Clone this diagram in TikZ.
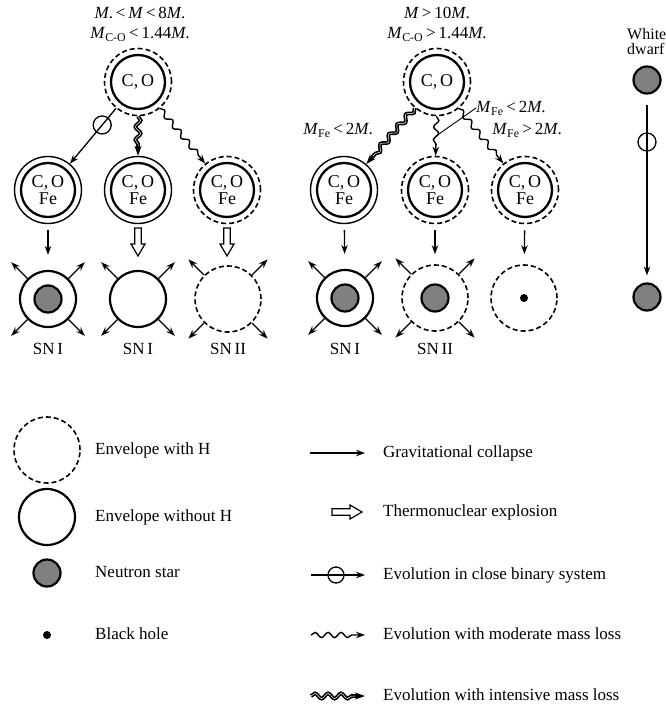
\documentclass[tikz,border=0pt]{standalone}
\usepackage{fontspec}
\setmainfont{Liberation Serif}
\usetikzlibrary{arrows.meta,decorations.pathmorphing,calc}
\begin{document}
\begin{tikzpicture}[x=1pt,y=-1pt,
  >={Stealth[length=9pt,width=6.5pt]},
  lbl/.style={inner sep=0pt, text height=12pt, text depth=3pt, font=\fontsize{17}{19}\selectfont},
  core/.style={circle, draw, line width=2.3pt, minimum size=54pt, inner sep=0pt, align=center, font=\fontsize{18}{17}\selectfont},
  shellH/.style={circle, draw, dash pattern=on 5pt off 3pt, line width=1.6pt, minimum size=67pt, inner sep=0pt},
  shell/.style={circle, draw, line width=1.4pt, minimum size=67pt, inner sep=0pt},
  envH/.style={circle, draw, dash pattern=on 5pt off 3pt, line width=1.6pt, minimum size=66pt, inner sep=0pt},
  env/.style={circle, draw, line width=2.2pt, minimum size=56pt, inner sep=0pt},
  nstar/.style={circle, draw, line width=2.2pt, fill=black!50, minimum size=27pt, inner sep=0pt},
  bhole/.style={circle, fill=black, minimum size=8pt, inner sep=0pt},
  bin/.style={circle, draw, line width=1.3pt, minimum size=18pt, inner sep=0pt},
  gc/.style={line width=1.3pt, ->},
  wave/.style={decorate, decoration={snake, amplitude=2.6pt, segment length=13pt, post length=8pt}},
  mod/.style={line width=1.4pt, ->, wave},
  intb/.style={line width=3.8pt, -{Stealth[length=10pt,width=7pt]}, wave},
  intw/.style={line width=0.5pt, white, wave, shorten >=10pt},
  pics/hollow/.style={code={\draw[line width=1.2pt, fill=white, line join=miter] (0,-3.2) -- (#1-12,-3.2) -- (#1-12,-7) -- (#1,0) -- (#1-12,7) -- (#1-12,3.2) -- (0,3.2) -- cycle;}}
]
\useasboundingbox (0,0) rectangle (665,709);

% ---------- left group ----------
\node[lbl] (c1) at (140,14) {\textit{M}.\,<\,\textit{M}\,<\,8\textit{M}.};
\node[lbl] (c2) at (140,34) {\textit{M}\textsubscript{C-O}\,<\,1.44\textit{M}.};
\node[shellH] (t1) at (138,82) {}; \node[core] (t1c) at (t1) {C,\,O};

\node[shell] (m1) at (48,190) {}; \node[core] (m1c) at (m1) {C,\,O\\Fe};
\node[shell] (m2) at (138,190) {}; \node[core] (m2c) at (m2) {C,\,O\\Fe};
\node[shellH] (m3) at (227,190) {}; \node[core] (m3c) at (m3) {C,\,O\\Fe};

\draw[gc] (t1) -- (m1) node[bin, pos=0.3] (bn1) {};
\draw[intb] (t1) -- (m2); \draw[intw] (t1) -- (m2);
\draw[mod] (t1) -- (m3);

\node[env] (b1) at (48,299) {}; \node[nstar] (b1n) at (b1) {};
\node[env] (b2) at (138,299) {};
\node[envH] (b3) at (228,299) {};

\draw[gc, shorten <=6pt, shorten >=15pt] (m1) -- (b1);
\pic[rotate=-90] at (138,228) {hollow=28};
\pic[rotate=-90] at (227,228) {hollow=28};

\foreach \a in {45,135,225,315}{
  \draw[gc] (b1.\a) -- ($(b1.center)+(\a:52pt)$);
  \draw[gc] (b2.\a) -- ($(b2.center)+(\a:52pt)$);
  \draw[gc] (b3.\a) -- ($(b3.center)+(\a:56pt)$);
}
\node[lbl] (s1) at (48,350) {SN\,I};
\node[lbl] (s2) at (138,350) {SN\,I};
\node[lbl] (s3) at (228,350) {SN\,II};

% ---------- right group ----------
\node[lbl] (d1) at (437,14) {\textit{M}\,>\,10\textit{M}.};
\node[lbl] (d2) at (437,34) {\textit{M}\textsubscript{C-O}\,>\,1.44\textit{M}.};
\node[shellH] (t2) at (437,82) {}; \node[core] (t2c) at (t2) {C,\,O};

\node[shell] (r1) at (344,190) {}; \node[core] (r1c) at (r1) {C,\,O\\Fe};
\node[shellH] (r2) at (435,190) {}; \node[core] (r2c) at (r2) {C,\,O\\Fe};
\node[shellH] (r3) at (525,190) {}; \node[core] (r3c) at (r3) {C,\,O\\Fe};

\draw[intb] (t2) -- (r1); \draw[intw] (t2) -- (r1);
\draw[mod] (t2) -- (r2) coordinate[pos=0.5] (mid2);
\draw[mod] (t2) -- (r3);

\node[lbl] (fe1) at (338,130) {\textit{M}\textsubscript{Fe}\,<\,2\textit{M}.};
\node[lbl, anchor=west] (fe2) at (476,108) {\textit{M}\textsubscript{Fe}\,<\,2\textit{M}.};
\node[lbl] (fe3) at (527,130) {\textit{M}\textsubscript{Fe}\,>\,2\textit{M}.};
\draw[line width=0.9pt] (fe2.west) -- (mid2);

\node[env] (q1) at (345,298) {}; \node[nstar] (q1n) at (q1) {};
\node[envH] (q2) at (435,298) {}; \node[nstar] (q2n) at (q2) {};
\node[envH] (q3) at (524,298) {}; \node[bhole] (q3n) at (q3) {};

\draw[gc, shorten <=6pt, shorten >=15pt] (r1) -- (q1);
\draw[gc, shorten <=6pt, shorten >=10pt] (r2) -- (q2);
\draw[gc, shorten <=6pt, shorten >=10pt] (r3) -- (q3);

\foreach \a in {45,135,225,315}{
  \draw[gc] (q1.\a) -- ($(q1.center)+(\a:52pt)$);
  \draw[gc] (q2.\a) -- ($(q2.center)+(\a:56pt)$);
}
\node[lbl] (s4) at (345,350) {SN\,I};
\node[lbl] (s5) at (435,350) {SN\,II};

% ---------- white dwarf ----------
\node[inner sep=0pt, anchor=north west, align=left, font=\fontsize{16}{15}\selectfont] (wd) at (627,28) {White\\dwarf};
\node[nstar] (w1) at (647,80) {};
\node[nstar] (w2) at (647,297) {};
\draw[gc, shorten <=10pt, shorten >=7pt] (w1) -- (w2);
\node[bin] (wb) at (647,142) {};

% ---------- legend left ----------
\node[envH] (L1) at (47,450) {};
\node[env] (L2) at (47,517) {};
\node[nstar] (L3) at (47,573) {};
\node[bhole] (L4) at (47,635) {};
\node[lbl, anchor=west] (T1) at (95,450) {Envelope with H};
\node[lbl, anchor=west] (T2) at (95,517) {Envelope without H};
\node[lbl, anchor=west] (T3) at (95,573) {Neutron star};
\node[lbl, anchor=west] (T4) at (95,635) {Black hole};

% ---------- legend right ----------
\coordinate (g0) at (310,453); \coordinate (g1) at (365,453);
\draw[gc] (g0) -- (g1);
\pic at (332,512) {hollow=30};
\coordinate (e0) at (311,575); \coordinate (e1) at (365,575);
\draw[gc] (e0) -- (e1);
\node[bin, minimum size=16pt] (eb) at (336,575) {};
\coordinate (m0) at (311,635); \coordinate (mm1) at (365,635);
\draw[mod] (m0) -- (mm1);
\coordinate (i0) at (311,696); \coordinate (i1) at (365,696);
\draw[intb] (i0) -- (i1); \draw[intw] (i0) -- (i1);

\node[lbl, anchor=west] (U1) at (383,453) {Gravitational collapse};
\node[lbl, anchor=west] (U2) at (383,512) {Thermonuclear explosion};
\node[lbl, anchor=west] (U3) at (383,575) {Evolution in close binary system};
\node[lbl, anchor=west] (U4) at (383,635) {Evolution with moderate mass loss};
\node[lbl, anchor=west] (U5) at (383,696) {Evolution with intensive mass loss};
\end{tikzpicture}
\end{document}
